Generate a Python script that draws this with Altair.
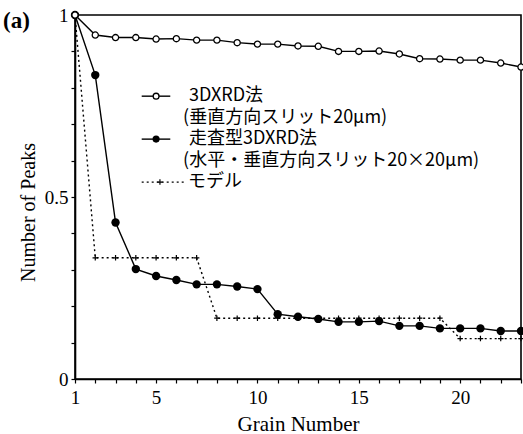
import altair as alt
import pandas as pd

# ---- data ----
grains = list(range(1, 24))
xrd_vals = [1.0, 0.945, 0.938, 0.938, 0.934, 0.935, 0.931, 0.931, 0.924, 0.920, 0.920, 0.915,
            0.914, 0.900, 0.900, 0.901, 0.893, 0.880, 0.879, 0.876, 0.876, 0.868, 0.857]
scan_vals = [1.0, 0.835, 0.430, 0.302, 0.283, 0.272, 0.260, 0.260, 0.254, 0.247, 0.178, 0.171,
             0.165, 0.157, 0.157, 0.159, 0.146, 0.146, 0.139, 0.139, 0.139, 0.132, 0.132]
model_vals = [1.0, 0.333, 0.333, 0.333, 0.333, 0.333, 0.333, 0.167, 0.167, 0.167, 0.167, 0.167,
              0.167, 0.167, 0.167, 0.167, 0.167, 0.167, 0.167, 0.111, 0.111, 0.111, 0.111]

x_ticks = list(range(1, 24))
x_labels = [1, 5, 10, 15, 20]
y_ticks = [0, 0.1, 0.2, 0.3, 0.4, 0.5, 0.6, 0.7, 0.8, 0.9, 1.0]

# legend (in data coordinates)
leg_labels = ["3DXRD法", "(垂直方向スリット20μm)", "走査型3DXRD法",
              "(水平・垂直方向スリット20×20μm)", "モデル"]
leg_text_x = [6.62, 6.33, 6.62, 6.33, 6.57]
leg_text_y = [0.777, 0.718, 0.659, 0.600, 0.541]
leg_sym_y = [0.777, 0.659, 0.541]
leg_line_x = [4.29, 5.70]
leg_model_line_x = [4.29, 6.48]
leg_sym_x = [5.0, 5.0, 5.19]

df = pd.DataFrame({"g": grains, "xrd": xrd_vals, "scan": scan_vals, "model": model_vals})

serif = "Liberation Serif"
jp = "Noto Sans CJK JP"

xs = alt.Scale(domain=[1, 23], nice=False, zero=False)
ys = alt.Scale(domain=[0, 1], nice=False, zero=False)

x_axis = alt.Axis(
    values=x_ticks,
    labelExpr="indexof([1,5,10,15,20], datum.value) >= 0 ? datum.label : ''",
    title="Grain Number", grid=False, tickSize=4, tickColor="black", tickWidth=1.2,
    domainColor="black", domainWidth=1.6, labelFont=serif, labelFontSize=19,
    labelColor="black", labelPadding=5, labelFlush=False, labelOverlap=False,
    titleFont=serif, titleFontSize=21, titleFontWeight="normal", titleColor="black",
    titleBaseline="alphabetic", titleY=51,
)
y_axis = alt.Axis(
    values=y_ticks,
    labelExpr="datum.value == 0 ? '0' : (datum.value == 0.5 ? '0.5' : (datum.value == 1 ? '1' : ''))",
    title="Number of Peaks", grid=False, tickSize=4, tickColor="black", tickWidth=1.2,
    domainColor="black", domainWidth=1.6, labelFont=serif, labelFontSize=19,
    labelColor="black", labelPadding=3, labelFlush=False, labelOverlap=False,
    titleFont=serif, titleFontSize=20, titleFontWeight="normal", titleColor="black",
    titleAngle=270, titleX=-47, titleY=197, titleAlign="center", titleBaseline="middle",
)


def X(f):
    return alt.X(f, type="quantitative", scale=xs, axis=x_axis)


def Y(f):
    return alt.Y(f, type="quantitative", scale=ys, axis=y_axis)


plus_path = "M-1,0L1,0M0,-1L0,1"

base = alt.Chart(df)

model_line = base.mark_line(color="black", strokeWidth=1.4, strokeDash=[2, 3]).encode(x=X("g"), y=Y("model"))
model_pts = base.mark_point(shape=plus_path, filled=False, stroke="black", strokeWidth=1.2, size=30,
                            opacity=1).encode(x=X("g"), y=Y("model"))
scan_line = base.mark_line(color="black", strokeWidth=1.4).encode(x=X("g"), y=Y("scan"))
scan_pts = base.mark_circle(color="black", size=70, opacity=1).encode(x=X("g"), y=Y("scan"))
xrd_line = base.mark_line(color="black", strokeWidth=1.4).encode(x=X("g"), y=Y("xrd"))
xrd_pts = base.mark_point(shape="circle", filled=True, fill="white", stroke="black", strokeWidth=1.3,
                          size=38, opacity=1).encode(x=X("g"), y=Y("xrd"))

# legend
leg_lines_df = pd.DataFrame({
    "lx": leg_line_x + leg_line_x,
    "ly": [leg_sym_y[0]] * 2 + [leg_sym_y[1]] * 2,
    "item": ["a", "a", "b", "b"],
})
leg_model_df = pd.DataFrame({"lx": leg_model_line_x, "ly": [leg_sym_y[2]] * 2})
leg_lines = alt.Chart(leg_lines_df).mark_line(color="black", strokeWidth=1.4).encode(
    x=X("lx"), y=Y("ly"), detail="item:N")
leg_model = alt.Chart(leg_model_df).mark_line(color="black", strokeWidth=1.4, strokeDash=[2, 3]).encode(
    x=X("lx"), y=Y("ly"))
leg_open = alt.Chart(pd.DataFrame({"sx": [leg_sym_x[0]], "sy": [leg_sym_y[0]]})).mark_point(
    shape="circle", filled=True, fill="white", stroke="black", strokeWidth=1.3, size=34, opacity=1
).encode(x=X("sx"), y=Y("sy"))
leg_fill = alt.Chart(pd.DataFrame({"sx": [leg_sym_x[1]], "sy": [leg_sym_y[1]]})).mark_circle(
    color="black", size=50, opacity=1).encode(x=X("sx"), y=Y("sy"))
leg_plus = alt.Chart(pd.DataFrame({"sx": [leg_sym_x[2]], "sy": [leg_sym_y[2]]})).mark_point(
    shape=plus_path, filled=False, stroke="black", strokeWidth=1.2, size=30, opacity=1
).encode(x=X("sx"), y=Y("sy"))
leg_text = alt.Chart(pd.DataFrame({"tx": leg_text_x, "ty": leg_text_y, "t": leg_labels})).mark_text(
    align="left", baseline="middle", font=jp, fontSize=18, color="black"
).encode(x=X("tx"), y=Y("ty"), text="t:N")

panel = alt.Chart(pd.DataFrame({"t": ["(a)"]})).mark_text(
    align="left", baseline="alphabetic", font=serif, fontSize=23, fontWeight="bold", color="black"
).encode(x=alt.value(-72), y=alt.value(13), text="t:N")

chart = alt.layer(
    model_line, model_pts, scan_line, scan_pts, xrd_line, xrd_pts,
    leg_lines, leg_model, leg_open, leg_fill, leg_plus, leg_text, panel,
).properties(
    width=446, height=364, autosize="none",
    padding={"left": 75, "top": 15, "right": 2, "bottom": 55},
    background="white",
).configure_view(stroke="black", strokeWidth=1.6)

chart.save("out.html", embed_options={"renderer": "svg", "actions": False})
